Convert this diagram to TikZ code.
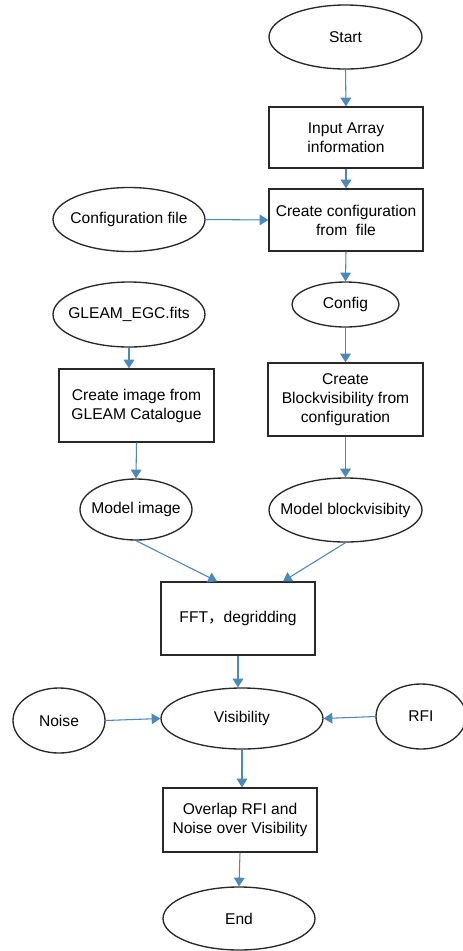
\documentclass[tikz,border=0pt]{standalone}
\usepackage{fontspec}
\setmainfont{Liberation Sans}
\newfontfamily\cjk{Noto Sans CJK SC}
\usetikzlibrary{shapes.geometric,arrows.meta}
\definecolor{arrowblue}{RGB}{74,137,186}
\definecolor{outline}{RGB}{40,40,40}
\begin{document}
\begin{tikzpicture}[x=0.75pt,y=-0.75pt,
  every node/.style={font=\fontsize{11.7}{14.3}\selectfont, inner sep=0pt, align=center},
  oval/.style 2 args={draw=outline, line width=1pt, ellipse, minimum width=#1*0.75pt, minimum height=#2*0.75pt},
  rbox/.style 2 args={draw=outline, line width=1pt, rectangle, minimum width=#1*0.75pt, minimum height=#2*0.75pt},
  flow/.style={draw=arrowblue, line width=0.8pt, -{Triangle[width=8pt,length=6.5pt]}}
]
\useasboundingbox (0,0) rectangle (463,951);
\clip (0,0) rectangle (463,951);

\node[oval={153}{64}, label=center:{Start}] (start) at (345.5,37) {};
\node[rbox={154}{61}] (input) at (346,137.5) {Input Array\\information};
\node[rbox={154}{62}] (cconf) at (346,220) {Create configuration\\from~ file};
\node[oval={152}{64}, label=center:{Configuration file}] (cfile) at (129,219.5) {};
\node[oval={107}{45}, label=center:{Config}] (config) at (345.5,304.5) {};
\node[rbox={155}{73}] (cblock) at (345.5,399.5) {Create\\Blockvisibility from\\configuration};
\node[oval={153}{64}, label=center:{Model blockvisibity}] (mblock) at (345.5,510) {};
\node[oval={152}{65}, label=center:{GLEAM\_EGC.fits}] (gleam) at (129,314.5) {};
\node[rbox={155}{73}] (cimage) at (136.5,405.5) {Create image from\\GLEAM Catalogue};
\node[oval={112}{61}, label=center:{Model image}] (mimage) at (136,509.5) {};
\node[rbox={154}{73}] (fft) at (238,618.5) {FFT{\cjk ，}degridding};
\node[oval={162}{61}, label=center:{Visibility}] (vis) at (242,718.5) {};
\node[oval={92}{65}, label=center:{Noise}] (noise) at (59,720.5) {};
\node[oval={90}{65}, label=center:{RFI}] (rfi) at (421,716.5) {};
\node[rbox={154}{64}] (overlap) at (240,820) {Overlap RFI and\\Noise over Visibility};
\node[oval={152}{63}, label=center:{End}] (end) at (239,918.5) {};

\draw[flow] (start.south) -- (input.north);
\draw[flow] (input.south) -- (cconf.north);
\draw[flow] (cfile.east) -- (cconf.west);
\draw[flow] (cconf.south) -- (config.north);
\draw[flow] (config.south) -- (cblock.north);
\draw[flow] (cblock.south) -- (mblock.north);
\draw[flow] (gleam.south) -- (gleam.south |- cimage.north);
\draw[flow] (cimage.south) -- (mimage.north);
\draw[flow] (mimage.south) -- ([xshift=-15.75pt]fft.north);
\draw[flow] (mblock.south) -- ([xshift=33.75pt]fft.north);
\draw[flow] (fft.south) -- (fft.south |- vis.north);
\draw[flow] (noise.east) -- (vis.west);
\draw[flow] (rfi.west) -- (vis.east);
\draw[flow] (vis.south) -- (vis.south |- overlap.north);
\draw[flow] (overlap.south) -- (end.north);
\end{tikzpicture}
\end{document}
